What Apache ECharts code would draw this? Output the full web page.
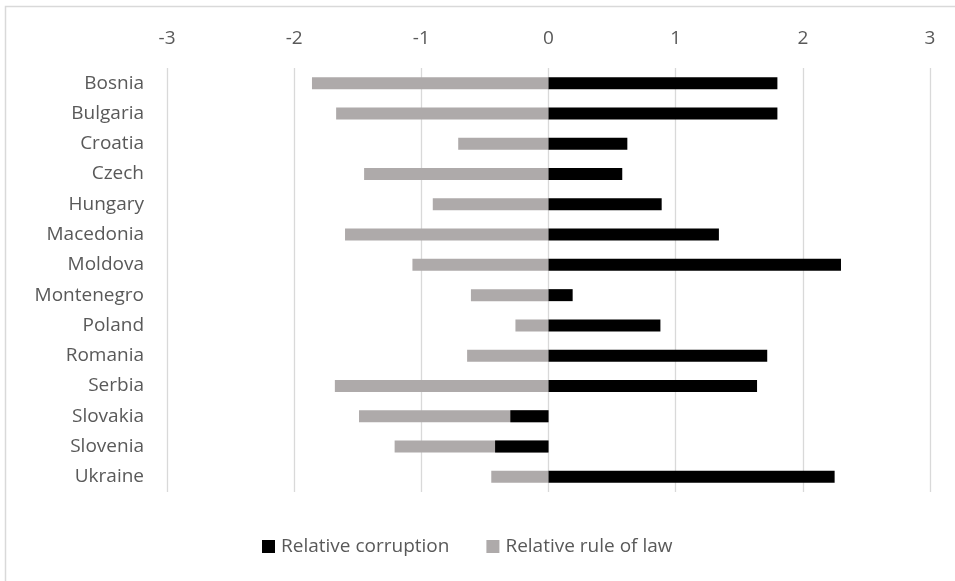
<!DOCTYPE html>
<html>
<head>
<meta charset="utf-8">
<script src="https://cdn.jsdelivr.net/npm/echarts@6/dist/echarts.min.js"></script>
<style>
html,body{margin:0;padding:0;background:#fff;}
#chart{width:955px;height:581px;}
</style>
</head>
<body>
<div id="chart"></div>
<script>
const categories = ['Bosnia','Bulgaria','Croatia','Czech','Hungary','Macedonia','Moldova','Montenegro','Poland','Romania','Serbia','Slovakia','Slovenia','Ukraine'];
const corruption = [1.80, 1.80, 0.62, 0.58, 0.89, 1.34, 2.30, 0.19, 0.88, 1.72, 1.64, -0.30, -0.42, 2.25];
const ruleOfLaw = [-1.86, -1.67, -0.71, -1.45, -0.91, -1.60, -1.07, -0.61, -0.26, -0.64, -1.68, -1.49, -1.21, -0.45];
const xTicks = {min: -3, max: 3, interval: 1};

const FONT = 'Open Sans';
const TXT = '#595959';
const FS = 19;
const chart = echarts.init(document.getElementById('chart'), null, {renderer: 'canvas'});
chart.setOption({
  animation: false,
  backgroundColor: '#fff',
  textStyle: {fontFamily: FONT},
  grid: {left: 167, right: 25, top: 68, bottom: 89, containLabel: false},
  legend: {
    data: ['Relative corruption', 'Relative rule of law'],
    left: 257, top: 532,
    itemWidth: 13, itemHeight: 13, itemGap: 37,
    icon: 'rect',
    textStyle: {fontFamily: FONT, fontSize: FS, color: TXT, padding: [0,0,0,1]}
  },
  xAxis: {
    type: 'value', position: 'top',
    min: xTicks.min, max: xTicks.max, interval: xTicks.interval,
    axisLine: {show: false}, axisTick: {show: false},
    splitLine: {show: true, lineStyle: {color: '#D9D9D9', width: 1.3}},
    axisLabel: {fontFamily: FONT, fontSize: FS, color: TXT, margin: 20}
  },
  yAxis: {
    type: 'category', data: categories, inverse: true,
    axisLine: {show: false, onZero: false}, axisTick: {show: false},
    axisLabel: {fontFamily: FONT, fontSize: FS, color: TXT, margin: 23}
  },
  series: [
    {name: 'Relative rule of law', type: 'bar', data: ruleOfLaw, barWidth: 12, barGap: '-100%',
     itemStyle: {color: '#AEAAAA'}},
    {name: 'Relative corruption', type: 'bar', data: corruption, barWidth: 12, barGap: '-100%',
     itemStyle: {color: '#000000'}}
  ],
  graphic: [{
    type: 'rect', silent: true, z: -1,
    shape: {x: 5.5, y: 6.5, width: 1200, height: 1200},
    style: {fill: 'none', stroke: '#D9D9D9', lineWidth: 1.5}
  }]
});
</script>
</body>
</html>
